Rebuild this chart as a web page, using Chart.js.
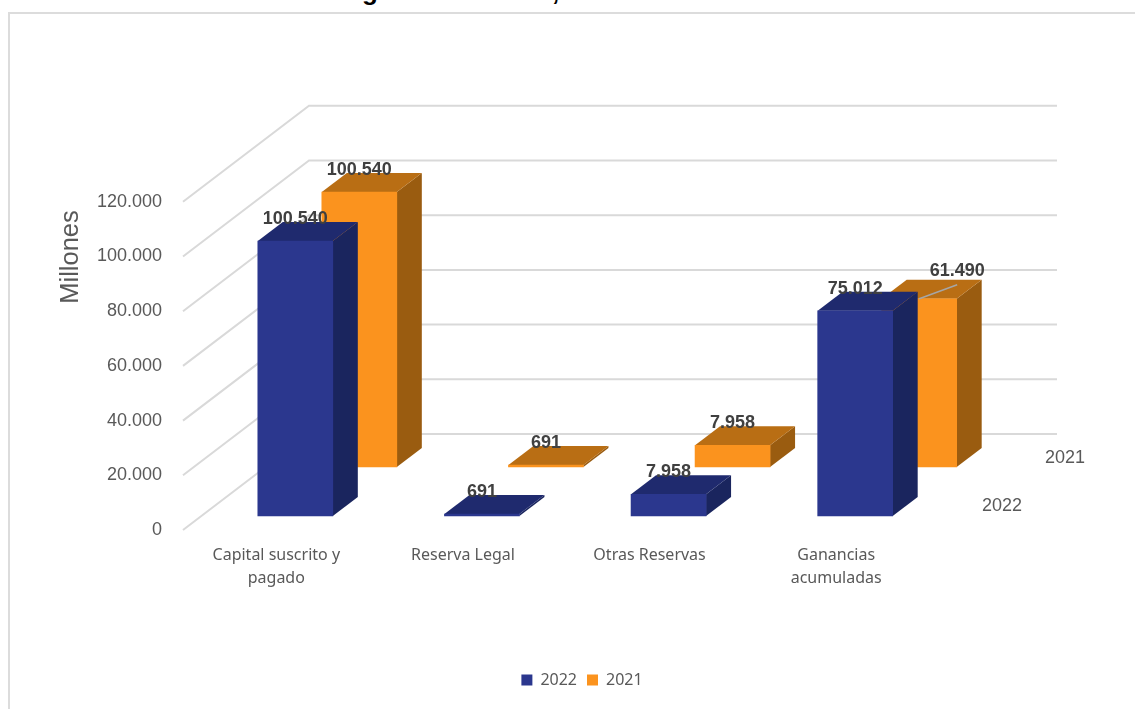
<!DOCTYPE html>
<html>
<head>
<meta charset="utf-8">
<style>
  html, body { margin: 0; padding: 0; background: #fff; overflow: hidden; }
  #frame { position: absolute; left: 8px; top: 12px; width: 1300px; height: 900px; border: 2px solid #dcdcdc; }
  #wrap { position: absolute; left: 0; top: 0; width: 1164px; height: 709px; }
  .cut { position: absolute; top: -24px; font: bold 26px/30px "Liberation Sans", sans-serif; color: #000; }
</style>
<script src="https://cdn.jsdelivr.net/npm/chart.js@4"></script>
</head>
<body>
<div class="cut" style="left:362px">g</div>
<div class="cut" style="left:552px">,</div>
<div id="frame"></div>
<div id="wrap"><canvas id="myChart" width="1164" height="709"></canvas></div>
<script>
const categories = [["Capital suscrito y", "pagado"], "Reserva Legal", "Otras Reservas", ["Ganancias", "acumuladas"]];
const values2022 = [100540, 691, 7958, 75012];
const values2021 = [100540, 691, 7958, 61490];
const yTicks = [0, 20000, 40000, 60000, 80000, 100000, 120000];
const yTitle = "Millones";

// fake 3d: how far one row sits behind the other, and how deep a bar is
const rowDx = 64, rowDy = -49;
const barDx = 25, barDy = 19;
const wallDx = 126, wallDy = -96;

const colors2022 = { front: "#2B378E", side: "#1A255E", top: "#1F2A6E" };
const colors2021 = { front: "#FB931E", side: "#9A5C10", top: "#B96E14" };
const faces = [colors2022, colors2021];

const fmt = (v) => v.toLocaleString("de-DE");

function poly(ctx, pts, color) {
  ctx.fillStyle = color;
  ctx.beginPath();
  pts.forEach((p, i) => (i ? ctx.lineTo(p[0], p[1]) : ctx.moveTo(p[0], p[1])));
  ctx.closePath();
  ctx.fill();
}

const fake3d = {
  id: "fake3d",
  // walls behind the bars
  beforeDatasetsDraw(chart) {
    const { ctx, scales: { x, y } } = chart;
    ctx.save();
    ctx.strokeStyle = "#D9D9D9";
    ctx.lineWidth = 2;
    yTicks.forEach((t) => {
      const px = x.left - 19, py = y.getPixelForValue(t) + 14;
      ctx.beginPath();
      ctx.moveTo(px, py);
      ctx.lineTo(px + wallDx, py + wallDy);
      ctx.lineTo(x.right + 108.5, py + wallDy);
      ctx.stroke();
    });
    ctx.restore();
  },
  // library draws the front face, the row offset goes on the canvas
  beforeDatasetDraw(chart, args) {
    const { ctx } = chart;
    const c = faces[args.index];
    ctx.save();
    if (args.index === 1) ctx.translate(rowDx, rowDy);
    args.meta.data.forEach((bar) => {
      const l = bar.x - bar.width / 2, r = bar.x + bar.width / 2;
      poly(ctx, [[r, bar.y], [r + barDx, bar.y - barDy], [r + barDx, bar.base - barDy], [r, bar.base]], c.side);
      poly(ctx, [[l, bar.y], [r, bar.y], [r + barDx, bar.y - barDy], [l + barDx, bar.y - barDy]], c.top);
    });
  },
  afterDatasetDraw(chart) {
    chart.ctx.restore();
  },
  afterDatasetsDraw(chart) {
    const { ctx, scales: { x, y } } = chart;
    ctx.save();
    ctx.textAlign = "center";
    ctx.textBaseline = "middle";

    // data labels
    ctx.font = "bold 18px 'Liberation Sans'";
    chart.data.datasets.forEach((ds, i) => {
      chart.getDatasetMeta(i).data.forEach((bar, j) => {
        let lx = bar.x + i * rowDx, ly = bar.y + i * rowDy - 22;
        if (i === 1 && j === 3) {
          // this one sits behind the 2022 bar, Excel pulls it out with a leader line
          ctx.strokeStyle = "#A6A6A6";
          ctx.lineWidth = 1.5;
          ctx.beginPath();
          ctx.moveTo(lx, ly + 22);
          ctx.lineTo(lx + 38, ly + 8);
          ctx.stroke();
          lx += 38;
          ly -= 6;
        }
        ctx.fillStyle = "#404040";
        ctx.fillText(fmt(ds.data[j]), lx, ly);
      });
    });

    // series names on the depth axis
    ctx.font = "18px 'Liberation Sans'";
    ctx.fillStyle = "#595959";
    chart.data.datasets.forEach((ds, i) => {
      ctx.fillText(ds.label, x.right + 53.5 + i * (rowDx - 1), y.getPixelForValue(0) - 10 + i * rowDy + i);
    });

    // axis title
    ctx.translate(71, 257);
    ctx.rotate(-Math.PI / 2);
    ctx.font = "25.5px 'Liberation Sans'";
    ctx.fillText(yTitle, 0, 0);
    ctx.restore();
  },
};

new Chart(document.getElementById("myChart"), {
  type: "bar",
  plugins: [fake3d],
  data: {
    labels: categories,
    datasets: [
      { label: "2022", data: values2022, backgroundColor: colors2022.front, borderWidth: 0, clip: false },
      { label: "2021", data: values2021, backgroundColor: colors2021.front, borderWidth: 0, clip: false },
    ],
  },
  options: {
    responsive: false,
    animation: false,
    layout: { padding: { top: 187.8, left: 0, right: 0, bottom: 11 } },
    datasets: { bar: { grouped: false, barThickness: 75 } },
    plugins: {
      tooltip: { enabled: false },
      legend: {
        position: "bottom",
        labels: {
          boxWidth: 11,
          boxHeight: 11,
          padding: 10,
          color: "#595959",
          font: { family: "'Noto Sans'", size: 16 },
        },
      },
    },
    scales: {
      x: {
        grid: { display: false },
        border: { display: false },
        afterFit(s) {
          s.height = 709 - 516 - 11 - (s.chart.legend ? s.chart.legend.height : 0);
        },
        ticks: {
          color: "#595959",
          padding: 20,
          labelOffset: -19,
          maxRotation: 0,
          autoSkip: false,
          font: { family: "'Noto Sans'", size: 16, lineHeight: 1.44 },
        },
      },
      y: {
        min: 0,
        max: 120000,
        grid: { display: false },
        border: { display: false },
        afterFit(s) {
          s.width = 202;
        },
        afterBuildTicks(s) {
          s.ticks = yTicks.map((v) => ({ value: v }));
        },
        ticks: {
          color: "#595959",
          padding: 32,
          labelOffset: 14,
          font: { family: "'Liberation Sans'", size: 18 },
          callback: fmt,
        },
      },
      // empty axis on the right, keeps the plot where it is and the legend centred
      spacer: {
        type: "linear",
        position: "right",
        grid: { display: false },
        border: { display: false },
        ticks: { display: false },
        afterFit(s) {
          s.width = 215.5;
        },
      },
    },
  },
});
</script>
</body>
</html>
